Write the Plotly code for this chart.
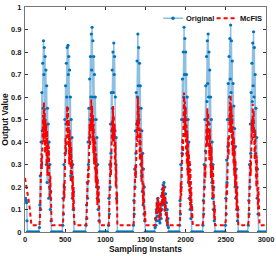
import plotly.graph_objects as go

# ---- Data -----------------------------------------------------------------
# Each segment: (first sampling instant, step between instants, values)

original_segments = [
    (0, 5, [0.15, 0.15, 0.14, 0.14, 0.13, 0.05, 0]),
    (40, 10, [0, 0, 0, 0, 0, 0, 0, 0, 0, 0, 0, 0, 0, 0]),
    (180, 5, [0.02, 0.12, 0.25, 0.1, 0.4, 0.3, 0.62, 0.45, 0.75, 0.55, 0.85, 0.7, 0.82, 0.5, 0.78, 0.4,
              0.72, 0.3, 0.65, 0.22, 0.55, 0.35, 0.48, 0.15, 0.4, 0.2, 0.3, 0.1, 0.18, 0.05, 0]),
    (340, 10, [0, 0, 0, 0, 0, 0, 0, 0, 0, 0, 0, 0, 0]),
    (470, 5, [0.03, 0.15, 0.08, 0.3, 0.2, 0.5, 0.35, 0.65, 0.48, 0.75, 0.6, 0.82, 0.55, 0.83, 0.7, 0.78,
              0.45, 0.72, 0.35, 0.6, 0.25, 0.5, 0.3, 0.42, 0.15, 0.3, 0.1, 0.18, 0]),
    (620, 10, [0, 0, 0, 0, 0, 0, 0, 0, 0, 0, 0, 0, 0, 0]),
    (760, 5, [0.03, 0.12, 0.06, 0.22, 0.15, 0.4, 0.3, 0.55, 0.42, 0.68, 0.5, 0.78, 0.6, 0.88, 0.72, 0.91,
              0.6, 0.85, 0.5, 0.78, 0.4, 0.7, 0.32, 0.6, 0.28, 0.5, 0.2, 0.42, 0.15, 0.3, 0.1, 0.2, 0.05, 0]),
    (930, 10, [0, 0, 0, 0, 0, 0, 0, 0, 0, 0, 0]),
    (1040, 5, [0.03, 0.15, 0.08, 0.3, 0.2, 0.48, 0.35, 0.62, 0.45, 0.72, 0.55, 0.8, 0.62, 0.84, 0.7, 0.78,
               0.45, 0.6, 0.3, 0.42, 0.15, 0]),
    (1150, 10, [0, 0, 0, 0, 0, 0, 0, 0, 0, 0, 0, 0, 0, 0, 0, 0, 0, 0, 0, 0]),
    (1350, 5, [0.03, 0.14, 0.08, 0.28, 0.2, 0.45, 0.35, 0.62, 0.48, 0.76, 0.6, 0.88, 0.65, 0.82, 0.5, 0.75,
               0.4, 0.65, 0.3, 0.55, 0.25, 0.45, 0.18, 0.35, 0.12, 0.28, 0.08, 0.2, 0.05, 0]),
    (1500, 10, [0, 0, 0, 0, 0, 0, 0, 0, 0, 0, 0, 0]),
    (1620, 5, [0.02, 0.06, 0.03, 0.1, 0.05, 0.13, 0.07, 0.15, 0.09, 0.12, 0.05, 0.1, 0.04, 0.08, 0.12, 0.06,
               0.16, 0.1, 0.19, 0.12, 0.21, 0.14, 0.22, 0.15, 0.2, 0.1, 0.17, 0.08, 0.13, 0.05, 0.1, 0.03,
               0.06, 0.02, 0]),
    (1800, 10, [0, 0, 0, 0, 0, 0, 0, 0, 0, 0, 0, 0, 0]),
    (1925, 5, [0.03, 0.14, 0.08, 0.3, 0.2, 0.5, 0.35, 0.68, 0.5, 0.8, 0.6, 0.91, 0.7, 0.86, 0.55, 0.8,
               0.45, 0.7, 0.35, 0.6, 0.28, 0.5, 0.22, 0.4, 0.15, 0.3, 0.1, 0.22, 0.06, 0.12, 0]),
    (2080, 10, [0, 0, 0, 0, 0, 0, 0, 0, 0, 0, 0, 0, 0, 0]),
    (2215, 5, [0.03, 0.14, 0.08, 0.3, 0.2, 0.5, 0.36, 0.65, 0.5, 0.78, 0.58, 0.85, 0.66, 0.88, 0.6, 0.8,
               0.48, 0.72, 0.38, 0.6, 0.3, 0.5, 0.22, 0.4, 0.15, 0.3, 0.1, 0.2, 0.05, 0.1, 0]),
    (2370, 10, [0, 0, 0, 0, 0, 0, 0, 0, 0, 0, 0, 0, 0]),
    (2495, 5, [0.03, 0.15, 0.08, 0.32, 0.22, 0.5, 0.38, 0.66, 0.5, 0.78, 0.6, 0.86, 0.68, 0.92, 0.62, 0.85,
               0.5, 0.76, 0.42, 0.66, 0.35, 0.56, 0.28, 0.46, 0.2, 0.38, 0.15, 0.28, 0.1, 0.2, 0.05, 0.1, 0]),
    (2660, 10, [0, 0, 0, 0, 0, 0, 0, 0, 0, 0, 0, 0]),
    (2780, 5, [0.03, 0.14, 0.08, 0.3, 0.2, 0.48, 0.35, 0.62, 0.48, 0.75, 0.58, 0.84, 0.65, 0.89, 0.6, 0.82,
               0.45, 0.7, 0.35, 0.55, 0.25, 0.42, 0.15, 0.28, 0.08, 0]),
    (2910, 10, [0, 0, 0, 0, 0, 0, 0, 0, 0, 0]),
]

mcfis_segments = [
    (0, 10, [0.24, 0.22, 0.2, 0.18, 0.16, 0.13, 0.1, 0.06, 0.03]),
    (90, 10, [0.03, 0.03, 0.03, 0.03, 0.03, 0.03, 0.03, 0.03, 0.03, 0.03]),
    (185, 5, [0.05, 0.15, 0.25, 0.18, 0.35, 0.28, 0.45, 0.38, 0.52, 0.4, 0.58, 0.45, 0.55, 0.35, 0.5, 0.42,
              0.48, 0.3, 0.45, 0.25, 0.4, 0.32, 0.38, 0.2, 0.3, 0.15, 0.25, 0.1, 0.18, 0.06, 0.03]),
    (340, 10, [0.03, 0.03, 0.03, 0.03, 0.03, 0.03, 0.03, 0.03, 0.03, 0.03, 0.03, 0.03, 0.03, 0.03]),
    (475, 5, [0.05, 0.12, 0.22, 0.15, 0.3, 0.25, 0.42, 0.35, 0.5, 0.4, 0.56, 0.42, 0.55, 0.38, 0.5, 0.3,
              0.45, 0.35, 0.42, 0.22, 0.38, 0.28, 0.32, 0.15, 0.25, 0.1, 0.2, 0.06, 0.03]),
    (620, 10, [0.03, 0.03, 0.03, 0.03, 0.03, 0.03, 0.03, 0.03, 0.03, 0.03, 0.03, 0.03, 0.03, 0.03, 0.03]),
    (765, 5, [0.05, 0.1, 0.18, 0.14, 0.28, 0.22, 0.38, 0.3, 0.48, 0.38, 0.55, 0.42, 0.59, 0.45, 0.56, 0.4,
              0.52, 0.35, 0.48, 0.3, 0.42, 0.28, 0.4, 0.22, 0.35, 0.2, 0.3, 0.12, 0.24, 0.15, 0.2, 0.08,
              0.12, 0.03]),
    (940, 10, [0.03, 0.03, 0.03, 0.03, 0.03, 0.03, 0.03, 0.03, 0.03, 0.03, 0.03]),
    (1045, 5, [0.05, 0.12, 0.22, 0.18, 0.32, 0.25, 0.42, 0.35, 0.5, 0.4, 0.56, 0.42, 0.52, 0.38, 0.48, 0.3,
               0.4, 0.2, 0.3, 0.12, 0.18, 0.03]),
    (1160, 10, [0.03, 0.03, 0.03, 0.03, 0.03, 0.03, 0.03, 0.03, 0.03, 0.03, 0.03, 0.03, 0.03, 0.03, 0.03,
                0.03, 0.03, 0.03, 0.03, 0.03]),
    (1355, 5, [0.05, 0.12, 0.2, 0.16, 0.3, 0.24, 0.4, 0.32, 0.5, 0.4, 0.6, 0.45, 0.56, 0.4, 0.52, 0.32,
               0.46, 0.28, 0.4, 0.22, 0.35, 0.18, 0.3, 0.12, 0.22, 0.08, 0.16, 0.05, 0.1, 0.03]),
    (1510, 10, [0.03, 0.03, 0.03, 0.03, 0.03, 0.03, 0.03, 0.03, 0.03, 0.03, 0.03]),
    (1620, 5, [0.03, 0.05, 0.09, 0.06, 0.13, 0.08, 0.16, 0.1, 0.14, 0.06, 0.11, 0.05, 0.09, 0.13, 0.07, 0.15,
               0.1, 0.18, 0.12, 0.2, 0.14, 0.21, 0.13, 0.19, 0.09, 0.16, 0.07, 0.12, 0.05, 0.09, 0.03, 0.05,
               0.03]),
    (1790, 10, [0.03, 0.03, 0.03, 0.03, 0.03, 0.03, 0.03, 0.03, 0.03, 0.03, 0.03, 0.03, 0.03, 0.03]),
    (1930, 5, [0.05, 0.12, 0.22, 0.16, 0.32, 0.26, 0.42, 0.34, 0.52, 0.42, 0.62, 0.46, 0.58, 0.42, 0.55, 0.36,
               0.5, 0.3, 0.45, 0.25, 0.4, 0.22, 0.35, 0.18, 0.32, 0.12, 0.28, 0.1, 0.2, 0.06, 0.12, 0.05,
               0.03]),
    (2100, 10, [0.03, 0.03, 0.03, 0.03, 0.03, 0.03, 0.03, 0.03, 0.03, 0.03, 0.03, 0.03]),
    (2220, 5, [0.05, 0.12, 0.2, 0.15, 0.3, 0.24, 0.4, 0.32, 0.48, 0.38, 0.55, 0.42, 0.53, 0.38, 0.5, 0.32,
               0.46, 0.28, 0.42, 0.24, 0.38, 0.2, 0.34, 0.15, 0.3, 0.1, 0.22, 0.06, 0.12, 0.03]),
    (2375, 10, [0.03, 0.03, 0.03, 0.03, 0.03, 0.03, 0.03, 0.03, 0.03, 0.03, 0.03, 0.03]),
    (2500, 5, [0.05, 0.12, 0.22, 0.16, 0.32, 0.25, 0.42, 0.34, 0.5, 0.4, 0.58, 0.45, 0.61, 0.44, 0.56, 0.38,
               0.52, 0.34, 0.47, 0.3, 0.42, 0.25, 0.38, 0.2, 0.32, 0.15, 0.26, 0.1, 0.2, 0.06, 0.12, 0.03]),
    (2665, 10, [0.03, 0.03, 0.03, 0.03, 0.03, 0.03, 0.03, 0.03, 0.03, 0.03, 0.03, 0.03]),
    (2785, 5, [0.05, 0.12, 0.22, 0.16, 0.32, 0.25, 0.42, 0.34, 0.5, 0.4, 0.57, 0.44, 0.54, 0.38, 0.5, 0.32,
               0.45, 0.26, 0.4, 0.2, 0.34, 0.15, 0.28, 0.1, 0.2, 0.06, 0.03]),
    (2920, 10, [0.03, 0.03, 0.03, 0.03, 0.03, 0.03, 0.03, 0.03, 0.03]),
]

x_ticks = [0, 500, 1000, 1500, 2000, 2500, 3000]
y_ticks = [0, 0.1, 0.2, 0.3, 0.4, 0.5, 0.6, 0.7, 0.8, 0.9, 1]
y_tick_labels = ["0", "0.1", "0.2", "0.3", "0.4", "0.5", "0.6", "0.7", "0.8", "0.9", "1"]
series_names = ["Original", "McFIS"]


def expand(segments):
    xs, ys = [], []
    for start, step, vals in segments:
        for i, v in enumerate(vals):
            xs.append(start + i * step)
            ys.append(v)
    return xs, ys


orig_x, orig_y = expand(original_segments)
mc_x, mc_y = expand(mcfis_segments)

FONT = "Liberation Sans, Arial, sans-serif"
BLUE = "#0072BD"
BLUE_LINE = "rgba(0,114,189,0.45)"
RED = "#FF0000"
RED_DASH = "4px,3px"

fig = go.Figure()
fig.add_trace(go.Scatter(
    x=orig_x, y=orig_y, name=series_names[0], mode="lines+markers", showlegend=False,
    line=dict(color=BLUE_LINE, width=1.5),
    marker=dict(color=BLUE, size=3.2, line=dict(width=0)),
))
fig.add_trace(go.Scatter(
    x=mc_x, y=mc_y, name=series_names[1], mode="lines", showlegend=False,
    line=dict(color=RED, width=2, dash=RED_DASH),
))

axis_common = dict(
    showgrid=False, zeroline=False, showline=True, linecolor="#777", linewidth=1,
    mirror="ticks", ticks="inside", ticklen=3, tickwidth=0.8, tickcolor="#333",
    automargin=False,
    tickfont=dict(family=FONT, size=7.5, color="#222", weight="bold"),
)
fig.update_xaxes(range=[0, 3000], tickvals=x_ticks,
                 title=dict(text="Sampling Instants", standoff=1,
                            font=dict(family=FONT, size=8.5, color="#111", weight="bold")),
                 ticklabelstandoff=0, **axis_common)
fig.update_yaxes(range=[0, 1], tickvals=y_ticks, ticktext=y_tick_labels,
                 title=dict(text="Output Value", standoff=2,
                            font=dict(family=FONT, size=8.5, color="#111", weight="bold")),
                 ticklabelstandoff=1, **axis_common)

# Hand-drawn legend (MATLAB-style, no box)
leg_y = 0.95
fig.add_shape(type="line", xref="paper", yref="paper", x0=0.573, x1=0.656, y0=leg_y, y1=leg_y,
              line=dict(color=BLUE_LINE, width=1.5))
fig.add_trace(go.Scatter(x=[0.614], y=[leg_y], xaxis="x2", yaxis="y2", mode="markers",
                         marker=dict(color=BLUE, size=3.5), showlegend=False, hoverinfo="skip"))
fig.add_annotation(xref="paper", yref="paper", x=0.66, y=leg_y, xanchor="left", yanchor="middle",
                   text=series_names[0], showarrow=False,
                   font=dict(family=FONT, size=7.5, color="#111", weight="bold"))
fig.add_shape(type="line", xref="paper", yref="paper", x0=0.795, x1=0.875, y0=leg_y, y1=leg_y,
              line=dict(color=RED, width=2, dash=RED_DASH))
fig.add_annotation(xref="paper", yref="paper", x=0.882, y=leg_y, xanchor="left", yanchor="middle",
                   text=series_names[1], showarrow=False,
                   font=dict(family=FONT, size=7.5, color="#111", weight="bold"))

fig.update_layout(
    width=276, height=256,
    margin=dict(l=25, r=10, t=7, b=24),
    paper_bgcolor="white", plot_bgcolor="white",
    showlegend=False,
    xaxis2=dict(range=[0, 1], overlaying="x", visible=False),
    yaxis2=dict(range=[0, 1], overlaying="y", visible=False),
)

fig.write_html("out.html", config={"displayModeBar": False},
               post_script="document.body.style.margin='0px';document.body.style.overflow='hidden';")
